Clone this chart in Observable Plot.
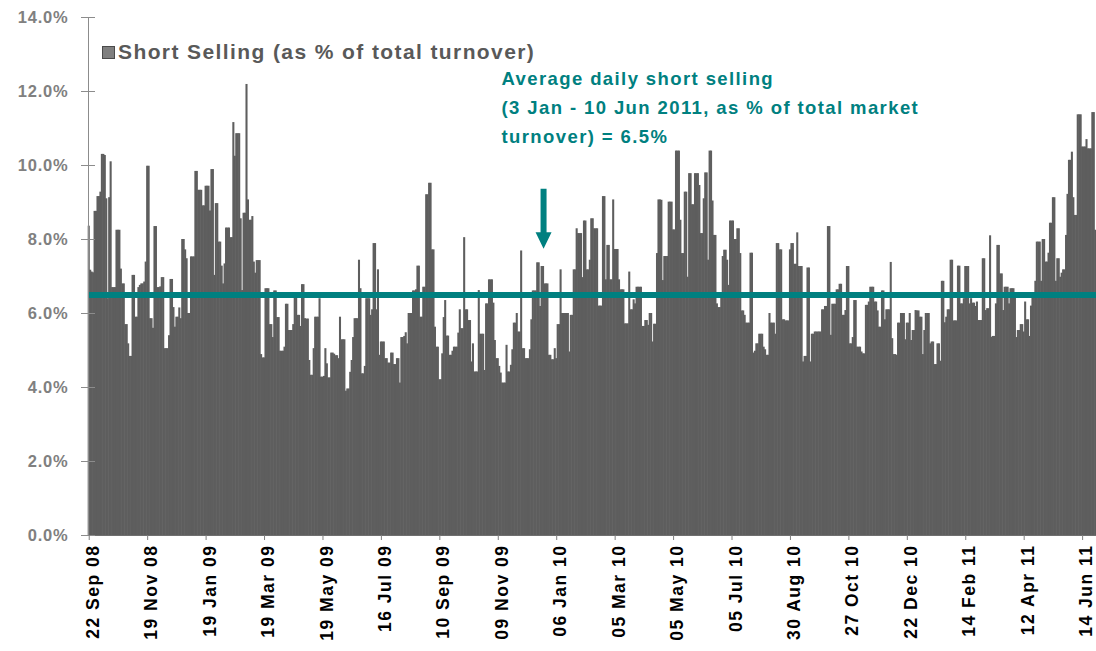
<!DOCTYPE html>
<html><head><meta charset="utf-8">
<script src="https://cdn.jsdelivr.net/npm/d3@7"></script>
<script src="https://cdn.jsdelivr.net/npm/@observablehq/plot@0.6"></script>
<style>
body{margin:0;background:#fff;}
#wrap{position:relative;width:1096px;height:651px;overflow:hidden;}
#legend{position:absolute;left:102px;top:40px;font:bold 21px "Liberation Sans",Arial,sans-serif;letter-spacing:1.4px;color:#595959;display:flex;align-items:center;white-space:nowrap;}
#legend .sw{display:inline-block;width:11px;height:11px;background:#7f7f7f;border:1px solid #4a4a4a;margin-right:3px;}
#chart svg g.ylab text{letter-spacing:0.8px;}
#chart svg g.xlab text{letter-spacing:1.5px;}
#chart svg g.annot text{letter-spacing:1.4px;}
</style></head><body>
<div id="wrap"><div id="chart"></div><div id="legend"><span class="sw"></span>Short Selling (as % of total turnover)</div></div>
<script>
// Daily short selling as % of total turnover (22 Sep 2008 - Jun 2011)
const s01 = [8.36,7.17,7.12,7.1,8.76,8.76,9.16,9.16,9.28,10.3,10.3,10.27,9.1,6.4,9.13,10.1,6.7,6.7,6.7,8.25,8.25,8.25,7.2,6.8,6.8,5.7,5.7,5.18,4.84,4.84,7.03,7.03,5.9,5.9,6.7,6.76,6.8,6.8,6.85,7.39,9.98,9.98,5.86,5.86,5.6,8.35,8.35,6.7,6.7,6.72,6.97,6.97,5.05,5.05,5.05,5.4,6.92,6.92,6.16,5.63,5.9,5.9,6.15];
const s02 = [5.86,8.0,8.0,7.72,7.48,6.0,6.0,7.53,7.53,7.53,9.84,9.84,9.33,9.33,9.33,8.91,8.91,9.44,9.44,9.44,8.77,9.89,9.89,7.03,8.97,8.97,7.93,7.93,7.28,6.8,7.34,8.31,8.31,8.31,8.05,8.05,11.16,10.25,10.86,10.86,10.86,8.56,6.62,8.71,8.71,12.19,9.07,8.52,8.52,8.62,7.39,7.09,7.43,7.43,7.43,4.89,4.8,4.8,6.67,6.67,6.67,5.7,5.7];
const s03 = [5.35,6.61,6.61,5.89,5.89,4.98,4.98,4.98,5.09,6.25,6.25,5.54,5.54,5.54,5.7,6.42,6.42,5.95,5.95,5.65,6.78,6.78,5.86,5.85,5.85,4.73,4.33,4.33,5.05,5.9,5.9,5.9,6.4,4.28,4.28,4.3,5.05,4.64,4.26,4.26,4.93,4.93,4.9,4.86,4.86,4.78,5.9,5.29,5.29,5.29,3.9,3.96,3.96,4.41,4.73,5.35,5.86,5.86,5.86,7.44,6.67,4.37,4.37];
const s04 = [4.57,6.4,6.4,6.4,5.95,6.1,7.89,7.89,6.1,7.18,4.87,5.23,5.23,5.23,4.78,4.78,4.66,4.66,4.93,4.93,4.62,4.62,4.78,4.78,4.12,5.35,5.35,5.38,5.48,5.18,6.0,6.0,6.0,6.61,6.61,6.64,7.28,7.28,5.9,5.9,6.71,6.71,9.21,9.21,9.52,9.52,7.72,7.72,5.63,5.09,5.09,4.21,4.21,4.91,5.89,6.35,5.39,5.39,4.87,4.87,4.98,5.09,5.09];
const s05 = [5.09,5.47,6.1,5.59,5.59,8.05,6.1,6.1,5.81,5.81,4.69,5.18,4.42,4.42,4.42,6.62,5.44,5.44,5.44,4.46,6.26,6.26,6.91,6.91,6.91,6.28,5.27,4.78,4.78,4.57,4.39,4.12,4.12,4.12,5.14,4.42,4.42,4.6,5.02,5.74,5.74,6.0,5.5,5.5,7.69,5.05,5.05,4.78,4.78,4.78,5.02,5.83,6.61,6.61,6.61,7.37,7.37,6.19,7.27,7.27,6.8,6.8,6.8];
const s06 = [4.87,4.87,4.75,4.75,5.05,4.78,5.7,5.7,7.18,6.0,6.0,6.0,6.0,6.0,4.96,5.95,5.95,7.18,7.18,8.29,8.16,8.16,8.16,6.97,8.5,8.5,7.18,7.18,7.44,8.56,8.56,8.29,8.29,8.29,6.2,6.2,6.2,9.16,9.16,6.91,7.84,7.84,6.91,6.91,9.07,7.73,7.73,7.73,6.91,6.64,6.64,6.64,5.72,5.72,5.72,7.12,6.1,6.1,6.37,6.26,6.71,6.71,6.71];
const s07 = [6.71,5.65,5.65,5.81,5.81,5.68,6.0,6.0,5.23,5.71,5.71,7.62,9.07,9.07,9.06,6.89,7.54,7.54,7.54,9.01,9.01,9.01,8.26,8.26,10.39,10.39,10.39,8.52,7.62,7.62,9.28,9.28,6.98,9.78,9.78,8.94,8.94,9.78,9.78,9.78,9.46,8.16,8.16,9.1,9.8,9.8,7.44,10.39,10.39,9.04,8.11,8.11,6.26,6.16,6.16,6.49,7.54,7.71,7.71,7.44,6.76,8.5,8.5];
const s08 = [8.5,8.0,8.0,8.29,8.29,7.62,6.07,6.07,5.95,5.74,5.74,5.74,7.63,7.63,4.93,4.98,5.18,5.18,5.44,5.44,5.44,5.09,5.02,4.87,4.87,6.0,5.74,5.74,5.74,5.44,7.89,7.89,7.72,7.72,5.83,5.83,5.8,5.8,5.8,7.72,7.89,7.89,7.33,7.33,8.18,7.27,7.27,7.27,4.69,4.84,4.84,7.23,7.23,4.69,5.44,5.44,5.5,5.5,5.5,5.5,5.5,6.1,6.1];
const s09 = [6.19,6.19,8.35,8.35,5.41,6.25,6.25,6.25,6.64,6.64,6.79,6.79,5.95,5.95,6.08,7.27,7.27,5.18,5.18,5.35,6.35,6.35,5.09,5.09,5.09,4.96,4.91,4.91,6.22,6.22,6.31,6.71,6.71,6.71,6.31,6.31,6.07,5.63,5.63,6.61,6.61,5.83,6.1,6.1,6.1,7.38,5.32,4.89,4.89,4.87,5.74,5.74,6.0,6.0,6.0,5.29,5.74,5.74,6.0,5.27,5.54,5.54,6.08];
const s10 = [6.07,6.07,5.9,5.9,4.89,5.54,6.0,6.0,6.0,5.18,5.23,5.23,4.62,4.62,5.18,5.18,4.71,6.87,6.87,5.75,5.9,6.1,6.1,7.44,7.44,5.8,5.8,5.8,7.28,7.28,6.26,6.26,6.4,7.27,7.27,7.27,6.26,6.4,6.28,6.28,6.19,6.31,5.81,5.81,5.81,7.48,7.48,6.08,6.13,6.13,8.1,5.36,5.38,5.38,6.26,7.84,7.84,7.07,7.07,6.08,6.71,6.71,6.71];
const s11 = [6.26,6.67,6.67,6.67,6.49,5.35,5.54,5.54,5.7,5.7,5.5,6.31,5.83,5.83,5.38,6.2,6.44,6.44,6.87,7.93,7.93,7.93,6.87,8.0,8.0,7.39,7.39,7.63,8.44,8.44,9.13,9.13,6.87,7.48,7.48,6.98,7.09,7.18,7.18,8.11,9.22,10.14,10.14,10.36,9.13,8.65,8.65,11.37,11.37,11.37,10.5,10.5,10.5,10.7,10.45,10.45,10.45,11.43,11.43,8.25];

// Category-axis labels: one every 40 trading days
const tickLabels = ["22 Sep 08","19 Nov 08","19 Jan 09","19 Mar 09","19 May 09","16 Jul 09","10 Sep 09","09 Nov 09","06 Jan 10","05 Mar 10","05 May 10","05 Jul 10","30 Aug 10","27 Oct 10","22 Dec 10","14 Feb 11","12 Apr 11","14 Jun 11"];
const tickStep = 40;
const yTicks = [0, 2, 4, 6, 8, 10, 12, 14];

const averageValue = 6.5;             // average 3 Jan - 10 Jun 2011
const arrowIndex = 311;               // trading day the arrow points to
const arrowTipValue = 7.75;
const annotation = "Average daily short selling\n(3 Jan - 10 Jun 2011, as % of total market\nturnover) = 6.5%";

const values = [].concat(s01, s02, s03, s04, s05, s06, s07, s08, s09, s10, s11);
const data = values.map((v, i) => ({i, v}));
const tickIdx = tickLabels.map((_, k) => k * tickStep);
const labelOf = new Map(tickIdx.map((d, k) => [d, tickLabels[k]]));

const teal = "#008080";
const arrowSymbol = {
  draw(ctx) {
    ctx.moveTo(0, 0);
    ctx.lineTo(-8, -16.5);
    ctx.lineTo(-3, -16.5);
    ctx.lineTo(-3, -60);
    ctx.lineTo(3, -60);
    ctx.lineTo(3, -16.5);
    ctx.lineTo(8, -16.5);
    ctx.closePath();
  }
};

const chart = Plot.plot({
  width: 1096,
  height: 651,
  marginLeft: 88,
  marginRight: 0,
  marginTop: 17,
  marginBottom: 116,
  style: {fontFamily: "'Liberation Sans', Arial, sans-serif", background: "#fff", overflow: "visible"},
  x: {type: "band", domain: d3.range(values.length), padding: 0, axis: null, label: null},
  y: {domain: [0, 14], axis: null, label: null},
  marks: [
    Plot.barY(data, {x: "i", y: "v", fill: "#5e5e5e", insetLeft: -0.3, insetRight: -0.3}),
    Plot.ruleY([averageValue], {stroke: teal, strokeWidth: 6}),
    Plot.frame({anchor: "left", stroke: "#8c8c8c"}),
    Plot.frame({anchor: "bottom", stroke: "#6f6f6f"}),
    Plot.axisY({ticks: yTicks, tickSize: 14, dx: 7, fill: null, stroke: "#8c8c8c", label: null}),
    Plot.axisY({ticks: yTicks, tickSize: 0, tickPadding: 20, tickFormat: d => d.toFixed(1) + "%",
      fontSize: 16.5, fontWeight: "bold", fill: "#808080", label: null, className: "ylab"}),
    Plot.axisX({ticks: tickIdx, tickSize: 5, fill: null, stroke: "#7f7f7f", label: null}),
    Plot.axisX({ticks: tickIdx, tickFormat: d => labelOf.get(d), tickRotate: -90, tickSize: 0, tickPadding: 9, dx: 4,
      fontSize: 17.5, fontWeight: "bold", fill: "#000", label: null, className: "xlab"}),
    Plot.dot([arrowIndex], {x: d => d, y: () => arrowTipValue, symbol: arrowSymbol, fill: teal, stroke: null}),
    Plot.text([annotation], {frameAnchor: "top-left", dx: 413, dy: 47, textAnchor: "start", lineAnchor: "top",
      lineHeight: 1.57, fontSize: 18.5, fontWeight: "bold", fill: teal, className: "annot"})
  ]
});
document.getElementById("chart").appendChild(chart);
</script>
</body></html>
